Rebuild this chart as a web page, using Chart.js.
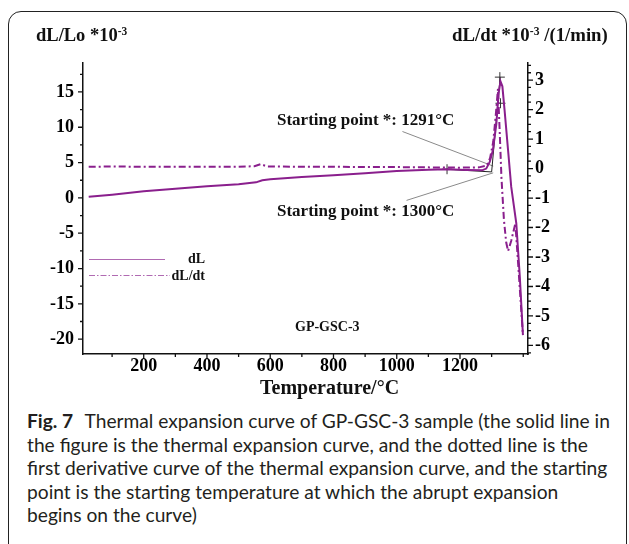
<!DOCTYPE html>
<html>
<head>
<meta charset="utf-8">
<script src="https://cdn.jsdelivr.net/npm/chart.js@4.4.0/dist/chart.umd.min.js"></script>
<style>
  body { margin: 0; background: #fff; }
  #frame { position: absolute; left: 8px; top: 11px; width: 619px; height: 620px; border: 1.5px solid #222; border-radius: 13px; box-sizing: border-box; }
  #wrap { position: absolute; left: 0; top: 0; width: 629px; height: 400px; }
  .lbl { position: absolute; font-family: "Liberation Serif", serif; font-weight: bold; color: #111; white-space: nowrap; line-height: 1; }
  .lbl sup { font-size: 0.62em; vertical-align: 0.5em; line-height: 0; }
  .cap { position: absolute; left: 27px; font-family: Lato, sans-serif; font-size: 19.2px; line-height: 22px; color: #231f20; white-space: nowrap; }
  .cap b { font-weight: bold; margin-right: 7px; }
</style>
</head>
<body>
<div id="frame"></div>
<div id="wrap"><canvas id="thermal-chart" width="629" height="400"></canvas></div>

<div class="lbl" style="left:36px; top:26px; font-size:18.5px;">dL/Lo *10<sup>-3</sup></div>
<div class="lbl" style="left:452px; top:26px; font-size:18.8px;">dL/dt *10<sup>-3</sup> /(1/min)</div>
<div class="lbl" style="left:277px; top:111px; font-size:17px;">Starting point *: 1291°C</div>
<div class="lbl" style="left:277px; top:202px; font-size:17px;">Starting point *: 1300°C</div>
<div class="lbl" style="right:424px; top:252px; font-size:14px;">dL</div>
<div class="lbl" style="right:424px; top:269px; font-size:14px;">dL/dt</div>
<div class="lbl" style="left:295px; top:320px; font-size:14px;">GP-GSC-3</div>
<div class="lbl" style="left:260px; top:377px; font-size:20px;">Temperature/°C</div>

<div class="cap" style="top:410px;"><b>Fig. 7</b> Thermal expansion curve of GP-GSC-3 sample (the solid line in</div>
<div class="cap" style="top:433.5px;">the figure is the thermal expansion curve, and the dotted line is the</div>
<div class="cap" style="top:457px;">first derivative curve of the thermal expansion curve, and the starting</div>
<div class="cap" style="top:480.5px;">point is the starting temperature at which the abrupt expansion</div>
<div class="cap" style="top:504px;">begins on the curve)</div>

<script>
// dL/Lo (left axis, *10^-3)
const dlTemp = [26, 100, 200, 300, 400, 500, 555, 575, 600, 700, 800, 900, 1000, 1100, 1160, 1220, 1270, 1283, 1294, 1304, 1315, 1322, 1328, 1334, 1341, 1352, 1362, 1378, 1389, 1399];
const dlVal  = [0.15, 0.45, 0.95, 1.3, 1.65, 1.95, 2.2, 2.5, 2.65, 2.95, 3.2, 3.5, 3.8, 4.0, 4.05, 3.95, 3.9, 4.15, 5.1, 6.75, 10.5, 14.8, 16.5, 15.8, 12.4, 6.75, 1.55, -3.6, -11.1, -19.4];

// dL/dt (right axis, *10^-3 1/min)
const rateTemp = [26, 100, 200, 300, 400, 500, 550, 570, 590, 700, 800, 900, 1000, 1100, 1200, 1260, 1285, 1295, 1305, 1313, 1320, 1325, 1331, 1339, 1346, 1352, 1362, 1375, 1383, 1399];
const rateVal  = [0.06, 0.07, 0.06, 0.06, 0.06, 0.06, 0.08, 0.15, 0.07, 0.06, 0.06, 0.05, 0.05, 0.04, 0.03, 0.04, 0.1, 0.35, 0.9, 1.8, 2.7, 1.4, -0.3, -1.75, -2.5, -2.8, -2.45, -1.86, -3.1, -5.65];

// onset construction lines (left axis units)
const baseTanTemp = [1159, 1300];
const baseTanVal  = [4.05, 3.68];
const riseTanTemp = [1300, 1327];
const riseTanVal  = [3.68, 17.1];
const upperLeadTemp = [1018, 1305];
const upperLeadVal  = [9.4, 4.5];
const lowerLeadTemp = [1031, 1305];
const lowerLeadVal  = [-0.35, 3.55];
const markTemp = [1159, 1326, 1328];
const markVal  = [4.06, 17.1, 13.4];

// axes
const xMin = 8, xMax = 1415;
const leftMin = -22.1, leftMax = 19.1;
const rightMin = -6.29, rightMax = 3.58;
const xLabels = [200, 400, 600, 800, 1000, 1200];
const leftLabels = [15, 10, 5, 0, -5, -10, -15, -20];
const rightLabels = [3, 2, 1, 0, -1, -2, -3, -4, -5, -6];
const xMinorStep = 100, leftMinorStep = 2.5, rightMinorStep = 0.25;

const purple = '#8a1f8d';

function pts(xs, ys) {
    return xs.map(function(x, i) { return {x: x, y: ys[i]}; });
}

function stepsBetween(min, max, step) {
    let out = [];
    for (let k = Math.ceil(min / step - 1e-9); k * step <= max + 1e-9; k++) {
        out.push(Math.round(k * step * 1000) / 1000);
    }
    return out;
}

const tickFont = 'bold 18px "Liberation Serif"';

const axisDecor = {
    id: 'axisDecor',
    afterDraw(chart) {
        const ctx = chart.ctx;
        const x = chart.scales.x, yl = chart.scales.y, yr = chart.scales.y2;
        ctx.save();
        ctx.strokeStyle = '#111';
        ctx.lineWidth = 1.3;
        ctx.beginPath();
        stepsBetween(x.min, x.max, xMinorStep).forEach(function(v) {
            const px = x.getPixelForValue(v);
            ctx.moveTo(px, x.top);
            ctx.lineTo(px, x.top + (xLabels.indexOf(v) >= 0 ? 5 : 3));
        });
        stepsBetween(yl.min, yl.max, leftMinorStep).forEach(function(v) {
            const py = yl.getPixelForValue(v);
            ctx.moveTo(yl.right, py);
            ctx.lineTo(yl.right - (leftLabels.indexOf(v) >= 0 ? 5 : 3), py);
        });
        stepsBetween(yr.min, yr.max, rightMinorStep).forEach(function(v) {
            const py = yr.getPixelForValue(v);
            ctx.moveTo(yr.left, py);
            ctx.lineTo(yr.left + (rightLabels.indexOf(v) >= 0 ? 5 : 3), py);
        });
        ctx.stroke();

        ctx.fillStyle = '#000';
        ctx.font = tickFont;
        ctx.textBaseline = 'middle';
        ctx.textAlign = 'center';
        xLabels.forEach(function(v) {
            ctx.fillText(String(v), x.getPixelForValue(v), x.top + 12);
        });
        ctx.textAlign = 'right';
        leftLabels.forEach(function(v) {
            ctx.fillText(String(v), yl.right - 9, yl.getPixelForValue(v));
        });
        ctx.textAlign = 'left';
        rightLabels.forEach(function(v) {
            ctx.fillText(String(v), yr.left + 7, yr.getPixelForValue(v));
        });

        // legend samples
        ctx.strokeStyle = '#b06ab2';
        ctx.lineWidth = 1;
        ctx.beginPath();
        ctx.moveTo(89, 259.5);
        ctx.lineTo(165, 259.5);
        ctx.stroke();
        ctx.setLineDash([6, 2, 1.5, 2]);
        ctx.beginPath();
        ctx.moveTo(89, 275.5);
        ctx.lineTo(170, 275.5);
        ctx.stroke();
        ctx.restore();
    }
};

function thinLine(xs, ys, color) {
    return {
        data: pts(xs, ys),
        yAxisID: 'y',
        borderColor: color,
        borderWidth: 1,
        pointRadius: 0,
        tension: 0,
    };
}

function plainAxis(extra) {
    return Object.assign({
        grid: {display: false, drawTicks: false},
        border: {display: true, color: '#111', width: 1.5},
        ticks: {display: false},
    }, extra);
}

new Chart(document.getElementById('thermal-chart'), {
    type: 'line',
    data: {
        datasets: [
            {
                label: 'dL',
                data: pts(dlTemp, dlVal),
                yAxisID: 'y',
                borderColor: purple,
                borderWidth: 2,
                pointRadius: 0,
                tension: 0,
            },
            {
                label: 'dL/dt',
                data: pts(rateTemp, rateVal),
                yAxisID: 'y2',
                borderColor: purple,
                borderWidth: 2,
                borderDash: [7, 3, 2, 3],
                pointRadius: 0,
                tension: 0,
            },
            thinLine(baseTanTemp, baseTanVal, '#222'),
            thinLine(riseTanTemp, riseTanVal, '#222'),
            thinLine(upperLeadTemp, upperLeadVal, '#8a8a8a'),
            thinLine(lowerLeadTemp, lowerLeadVal, '#8a8a8a'),
            {
                data: pts(markTemp, markVal),
                yAxisID: 'y',
                showLine: false,
                pointStyle: 'cross',
                pointRadius: 5,
                borderColor: '#333',
                borderWidth: 1,
            },
        ],
    },
    options: {
        responsive: false,
        animation: false,
        layout: {padding: {top: 63, left: 0, right: 0, bottom: 0}},
        plugins: {legend: {display: false}, tooltip: {enabled: false}},
        scales: {
            x: plainAxis({
                type: 'linear', min: xMin, max: xMax,
                afterFit: function(s) { s.height = 46; },
            }),
            y: plainAxis({
                position: 'left', min: leftMin, max: leftMax,
                afterFit: function(s) { s.width = 83; },
            }),
            y2: plainAxis({
                position: 'right', min: rightMin, max: rightMax,
                afterFit: function(s) { s.width = 101; },
            }),
        },
    },
    plugins: [axisDecor],
});
</script>
</body>
</html>
